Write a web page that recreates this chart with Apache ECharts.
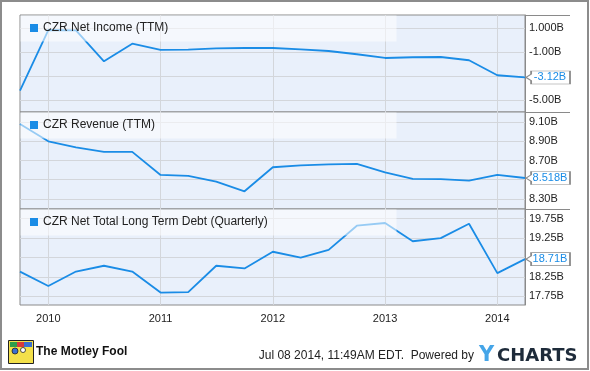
<!DOCTYPE html>
<html><head><meta charset="utf-8">
<script src="https://cdn.jsdelivr.net/npm/echarts@6/dist/echarts.min.js"></script>
<style>html,body{margin:0;padding:0;background:#fff}#c{width:590px;height:371px}</style>
</head><body><div id="c"></div>
<script>
const dates = ['2009-09-30','2009-12-31','2010-03-31','2010-06-30','2010-09-30','2010-12-31','2011-03-31','2011-06-30','2011-09-30','2011-12-31','2012-03-31','2012-06-30','2012-09-30','2012-12-31','2013-03-31','2013-06-30','2013-09-30','2013-12-31','2014-03-31'];
const netIncome = [-4.22, 0.83, 0.80, -1.78, -0.31, -0.83, -0.80, -0.70, -0.67, -0.67, -0.78, -0.92, -1.19, -1.50, -1.44, -1.42, -1.69, -2.94, -3.12];
const revenue = [9.08, 8.90, 8.836, 8.79, 8.79, 8.55, 8.54, 8.48, 8.38, 8.63, 8.65, 8.66, 8.665, 8.576, 8.51, 8.506, 8.49, 8.55, 8.518];
const debt = [18.39, 18.02, 18.39, 18.54, 18.39, 17.85, 17.86, 18.54, 18.47, 18.90, 18.75, 18.95, 19.57, 19.64, 19.17, 19.25, 19.62, 18.35, 18.71];
const seriesNames = ['CZR Net Income (TTM)', 'CZR Revenue (TTM)', 'CZR Net Total Long Term Debt (Quarterly)'];
const yearTicks = [2010, 2011, 2012, 2013, 2014];
const niTicks = [1, -1, -3, -5];
const niLabels = {'1': '1.000B', '-1': '-1.00B', '-5': '-5.00B'};
const revTicks = [9.1, 8.9, 8.7, 8.5, 8.3];
const revLabels = {'9.1': '9.10B', '8.9': '8.90B', '8.7': '8.70B', '8.3': '8.30B'};
const debtTicks = [19.75, 19.25, 18.75, 18.25, 17.75];
const debtLabels = {'19.75': '19.75B', '19.25': '19.25B', '18.25': '18.25B', '17.75': '17.75B'};

// convert ISO date to fractional year (day after the date end)
function yearFrac(d) {
  const t = Date.parse(d + 'T00:00:00Z') + 86400000;
  const y = new Date(t).getUTCFullYear();
  const s = Date.UTC(y, 0, 1), e = Date.UTC(y + 1, 0, 1);
  return y + (t - s) / (e - s);
}
const xs = dates.map(yearFrac);
const BLUE = '#1a8ce6';
const FONT = 'Liberation Sans, Arial, sans-serif';
const chart = echarts.init(document.getElementById('c'), null, {renderer: 'canvas'});

const grids = [
  {left: 20, right: 65, top: 15, height: 97},
  {left: 20, right: 65, top: 112, height: 97},
  {left: 20, right: 65, top: 209, height: 96}
].map(g => Object.assign(g, {show: true, backgroundColor: '#e9f0fb', borderColor: '#8a8a8a', borderWidth: 1}));

const xAxes = [0, 1, 2].map(i => ({
  type: 'value', gridIndex: i, min: xs[0], max: xs[xs.length - 1],
  axisLine: {show: false}, axisTick: {show: false, customValues: yearTicks},
  splitLine: {show: true, lineStyle: {color: '#d3d6db', width: 1}},
  axisLabel: {show: i === 2, customValues: yearTicks, margin: 8, fontSize: 11, color: '#222', fontFamily: FONT,
    formatter: v => String(Math.round(v))}
}));

function yAx(i, min, max, ticks, labels) {
  return {
    type: 'value', gridIndex: i, position: 'right', min: min, max: max,
    axisLine: {show: true, lineStyle: {color: '#8a8a8a'}},
    axisTick: {show: false, customValues: ticks},
    splitLine: {show: true, lineStyle: {color: '#d3d6db', width: 1}},
    axisLabel: {customValues: Object.keys(labels).map(Number), margin: 4, fontSize: 11, color: '#222', fontFamily: FONT,
      formatter: v => labels[String(v)] || ''}
  };
}
const yAxes = [
  yAx(0, -6.0, 2.08, niTicks, niLabels),
  yAx(1, 8.196, 9.204, revTicks, revLabels),
  yAx(2, 17.53, 20.0, debtTicks, debtLabels)
];

const CALLOUT = 'path://M0,6 L5,3 L5,0 L43,0 L43,12 L5,12 L5,9 Z';
function ser(i, values, digits) {
  const data = values.map((v, k) => [xs[k], v]);
  const last = data[data.length - 1];
  return {
    type: 'line', name: seriesNames[i], xAxisIndex: i, yAxisIndex: i, data: data,
    symbol: 'none', lineStyle: {color: BLUE, width: 1.8}, itemStyle: {color: BLUE}, z: 3,
    markPoint: {
      symbol: CALLOUT, symbolSize: [44, 13], symbolKeepAspect: false, symbolOffset: [23, 0],
      itemStyle: {color: '#ffffff', borderColor: '#8c8c8c', borderWidth: 1},
      label: {show: true, position: 'inside', offset: [2, 0], color: BLUE, fontSize: 11, fontFamily: FONT,
        formatter: () => last[1].toFixed(digits) + 'B'},
      data: [{coord: last}], z: 20, silent: true
    }
  };
}

const legends = [0, 1, 2].map(i => ({
  data: [seriesNames[i]], left: 30, top: [22, 119, 216][i], padding: 0, icon: 'rect', itemWidth: 8, itemHeight: 8,
  textStyle: {fontSize: 12, color: '#222', fontFamily: FONT}, selectedMode: false, z: 12
}));

const graphics = [
  {type: 'rect', shape: {x: 20.5, y: 15.5, width: 376, height: 26}, style: {fill: 'rgba(255,255,255,0.55)'}, z: 10},
  {type: 'rect', shape: {x: 20.5, y: 112.5, width: 376, height: 26}, style: {fill: 'rgba(255,255,255,0.55)'}, z: 10},
  {type: 'rect', shape: {x: 20.5, y: 209.5, width: 376, height: 26}, style: {fill: 'rgba(255,255,255,0.55)'}, z: 10},
  {type: 'line', shape: {x1: 525, y1: 15.5, x2: 570, y2: 15.5}, style: {stroke: '#8a8a8a', lineWidth: 1}, z: 11},
  {type: 'line', shape: {x1: 525, y1: 112.5, x2: 570, y2: 112.5}, style: {stroke: '#8a8a8a', lineWidth: 1}, z: 11},
  {type: 'line', shape: {x1: 525, y1: 209.5, x2: 570, y2: 209.5}, style: {stroke: '#8a8a8a', lineWidth: 1}, z: 11},
  {type: 'rect', shape: {x: 1, y: 1, width: 587, height: 368}, style: {fill: 'none', stroke: '#8c8c8c', lineWidth: 2}, z: 30},
  // Motley Fool logo (approximation)
  {type: 'rect', shape: {x: 8.5, y: 340.5, width: 25, height: 23}, style: {fill: '#f3e04a', stroke: '#222', lineWidth: 1}, z: 30},
  {type: 'rect', shape: {x: 10, y: 342, width: 7, height: 5}, style: {fill: '#2e9e4a'}, z: 31},
  {type: 'rect', shape: {x: 17, y: 342, width: 7, height: 5}, style: {fill: '#d83a3a'}, z: 31},
  {type: 'rect', shape: {x: 24, y: 342, width: 8, height: 5}, style: {fill: '#3b6fd0'}, z: 31},
  {type: 'circle', shape: {cx: 15, cy: 351, r: 3}, style: {fill: '#3b6fd0', stroke: '#222', lineWidth: 0.8}, z: 31},
  {type: 'circle', shape: {cx: 23, cy: 350, r: 2.5}, style: {fill: '#fff', stroke: '#222', lineWidth: 0.8}, z: 31},
  {type: 'text', x: 36, y: 352, style: {text: 'The Motley Fool', fontSize: 12, fontWeight: 'bold', fill: '#111', fontFamily: FONT, textVerticalAlign: 'middle'}, z: 31},
  {type: 'text', x: 474, y: 356, style: {text: 'Jul 08 2014, 11:49AM EDT.  Powered by', fontSize: 12, fill: '#222', fontFamily: FONT, textAlign: 'right', textVerticalAlign: 'middle'}, z: 31},
  {type: 'text', x: 479, y: 356, style: {text: 'Y', fontSize: 21, fontWeight: 'bold', fill: '#45a5e8', fontFamily: 'DejaVu Sans, sans-serif', textVerticalAlign: 'middle'}, z: 31},
  {type: 'text', x: 497, y: 356, style: {text: 'CHARTS', fontSize: 18, fontWeight: 'bold', fill: '#1e2b3a', fontFamily: 'DejaVu Sans, sans-serif', textVerticalAlign: 'middle'}, z: 31}
];

chart.setOption({
  animation: false,
  backgroundColor: '#fff',
  grid: grids,
  xAxis: xAxes,
  yAxis: yAxes,
  legend: legends,
  series: [ser(0, netIncome, 2), ser(1, revenue, 3), ser(2, debt, 2)],
  graphic: graphics
});
</script></body></html>
